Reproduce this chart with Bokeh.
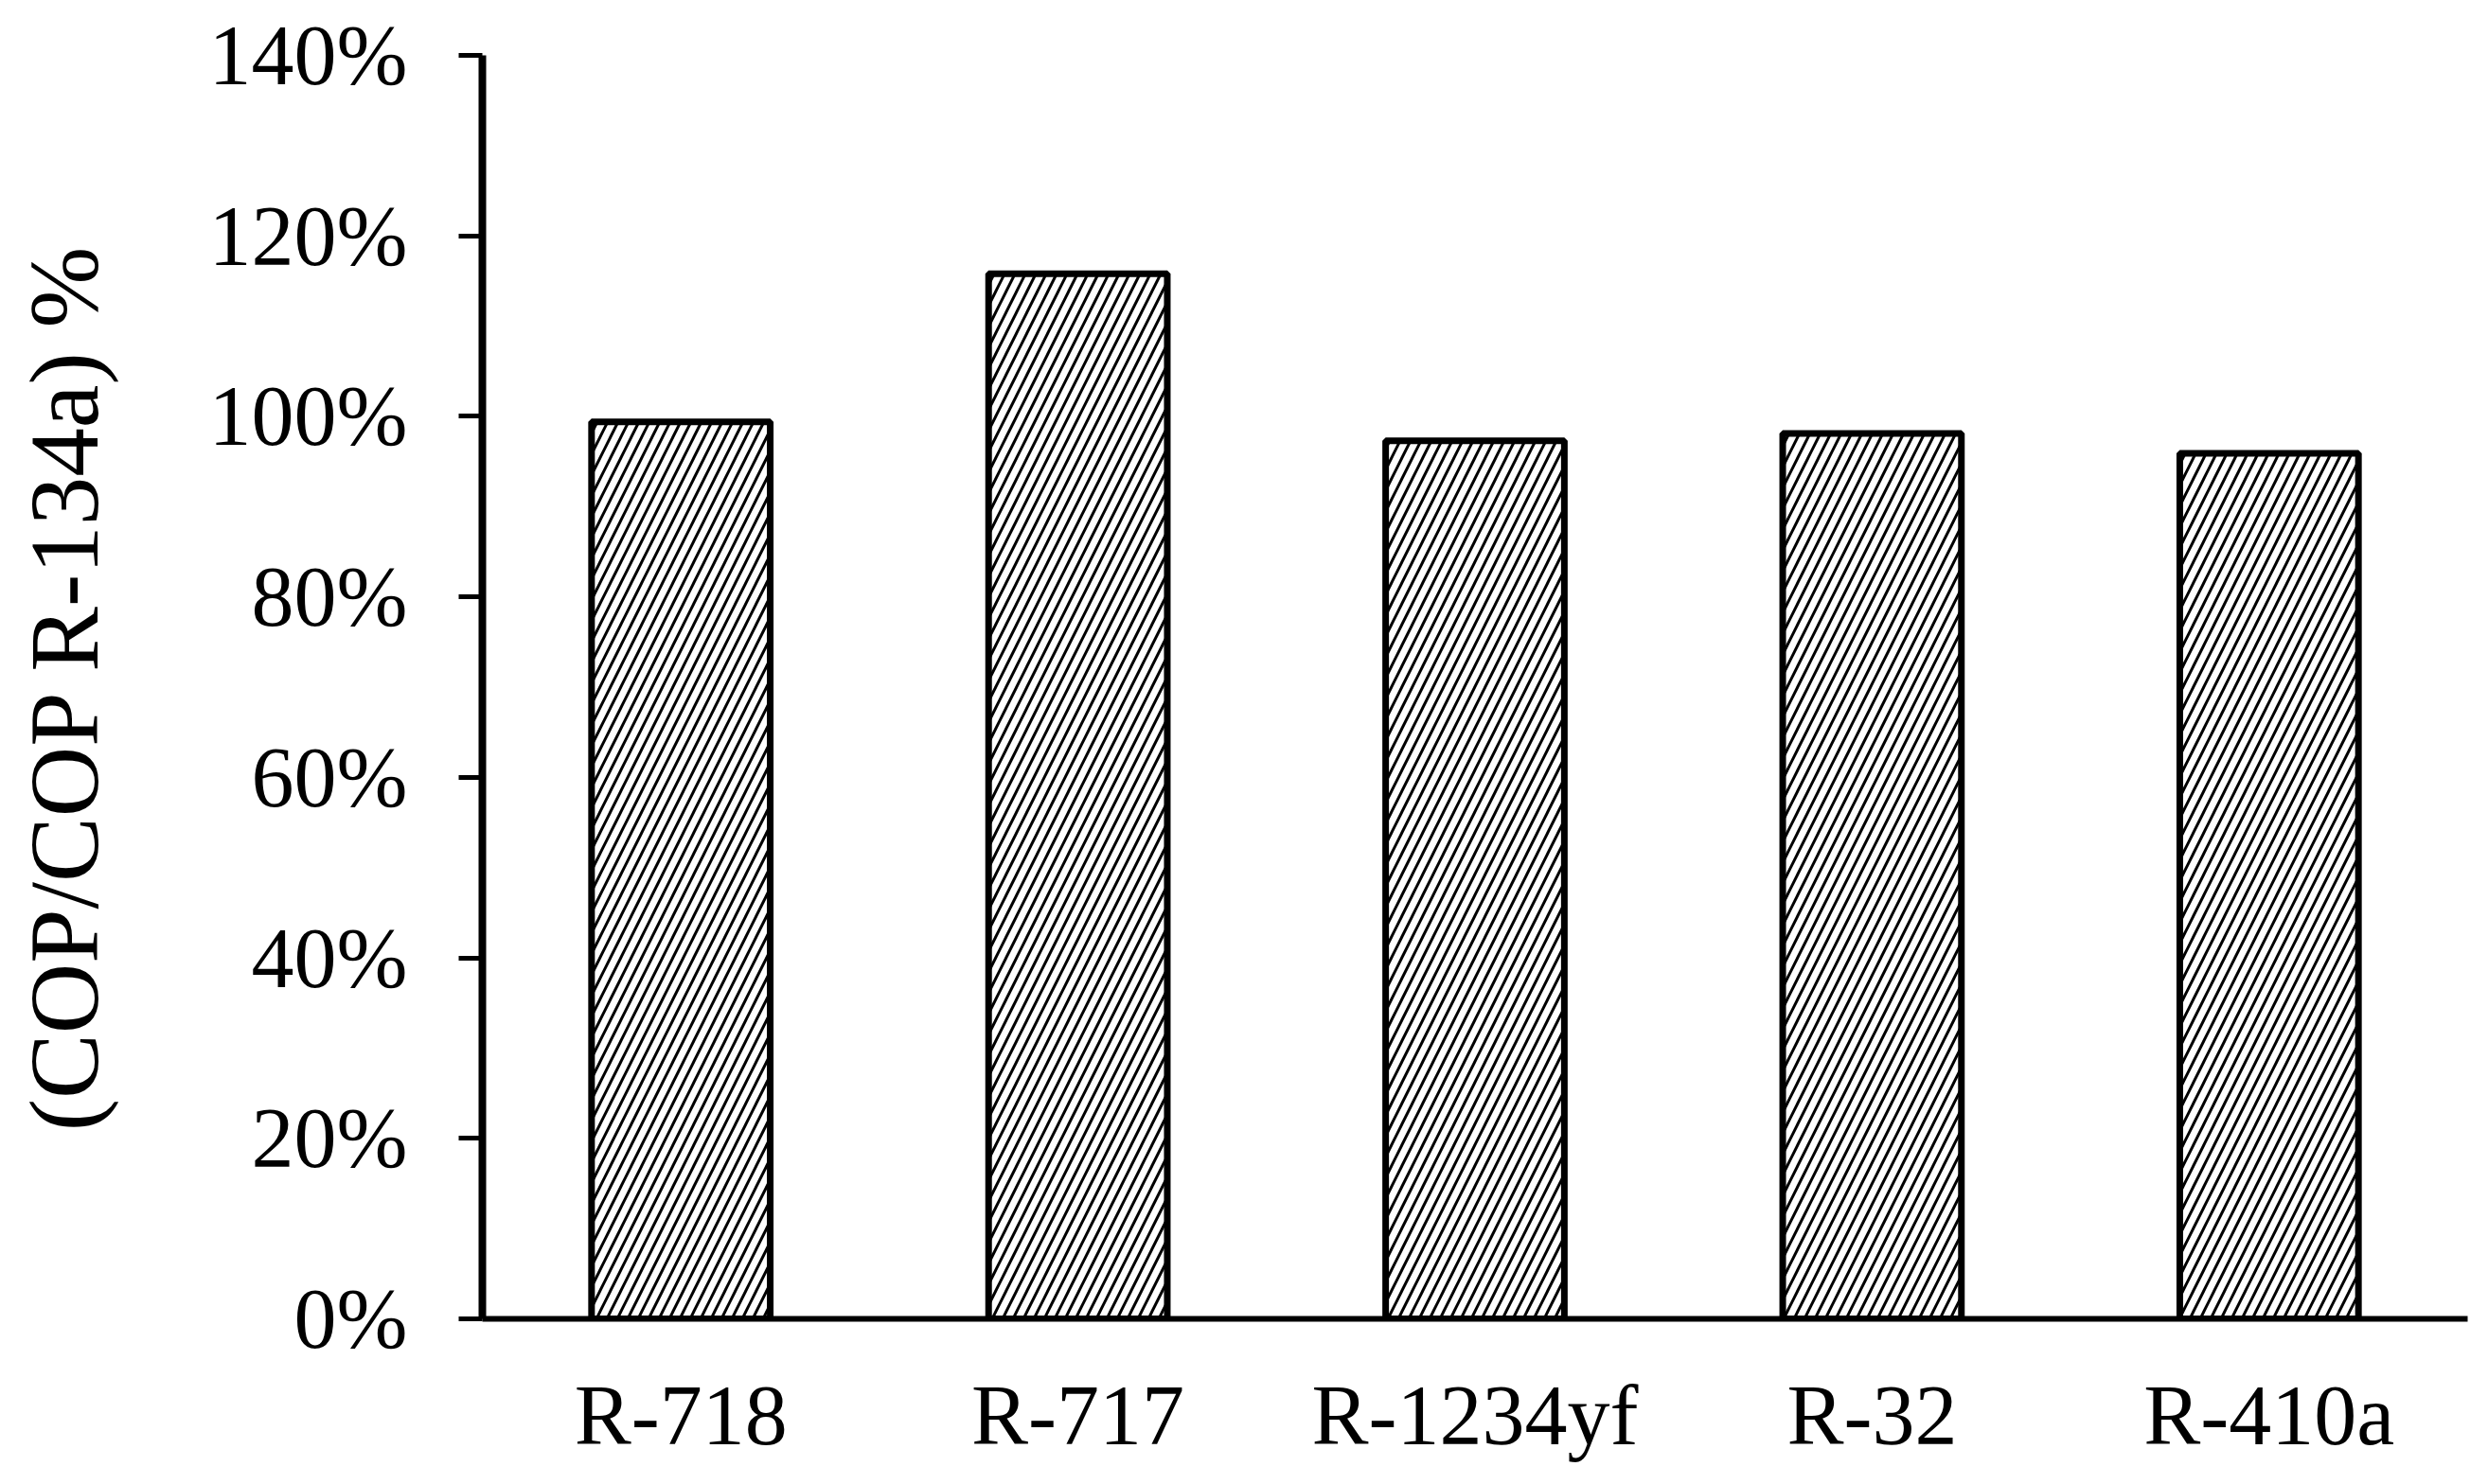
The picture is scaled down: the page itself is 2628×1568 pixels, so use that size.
from bokeh.plotting import figure
from bokeh.models import FixedTicker, NumeralTickFormatter, Range1d, FactorRange, ColumnDataSource
from bokeh.embed import file_html
from bokeh.resources import INLINE

# Data
refrigerants = ["R-718", "R-717", "R-1234yf", "R-32", "R-410a"]
cop_ratio = [0.994, 1.158, 0.973, 0.981, 0.959]
y_ticks = [0.0, 0.2, 0.4, 0.6, 0.8, 1.0, 1.2, 1.4]

FONT = "Liberation Serif"

source = ColumnDataSource(data=dict(x=refrigerants, top=cop_ratio))

p = figure(
    width=2612, height=1552,
    x_range=FactorRange(factors=refrigerants, range_padding=0),
    y_range=Range1d(0, 1.4),
    output_backend="svg", toolbar_location=None,
    min_border_left=509, min_border_right=6,
    min_border_top=58, min_border_bottom=159,
)

p.vbar(x="x", top="top", bottom=0, width=0.45, source=source,
       fill_color="white", line_color="black", line_width=7,
       hatch_pattern="right_diagonal_line", hatch_color="black",
       hatch_scale=22, hatch_weight=3)

p.xgrid.visible = False
p.ygrid.visible = False
p.outline_line_color = None
p.background_fill_color = "white"
p.border_fill_color = "white"

# Y axis
ya = p.yaxis[0]
ya.ticker = FixedTicker(ticks=y_ticks)
ya.formatter = NumeralTickFormatter(format="0%")
ya.axis_line_width = 8
ya.axis_line_color = "black"
ya.major_tick_line_width = 5
ya.major_tick_line_color = "black"
ya.major_tick_out = 25
ya.major_tick_in = 0
ya.minor_tick_line_color = None
ya.major_label_text_font = FONT
ya.major_label_text_font_size = "90px"
ya.major_label_text_color = "black"
ya.major_label_standoff = 54
ya.axis_label = "(COP/COP R-134a) %"
ya.axis_label_text_font = FONT
ya.axis_label_text_font_size = "103px"
ya.axis_label_text_font_style = "normal"
ya.axis_label_text_color = "black"
ya.axis_label_standoff = 93

# X axis
xa = p.xaxis[0]
xa.axis_line_width = 6
xa.axis_line_color = "black"
xa.major_tick_line_color = None
xa.major_tick_out = 0
xa.major_tick_in = 0
xa.minor_tick_line_color = None
xa.major_label_text_font = FONT
xa.major_label_text_font_size = "90px"
xa.major_label_text_color = "black"
xa.major_label_standoff = 52
xa.major_label_orientation = "horizontal"

open("out.html", "w").write(file_html(p, INLINE))
